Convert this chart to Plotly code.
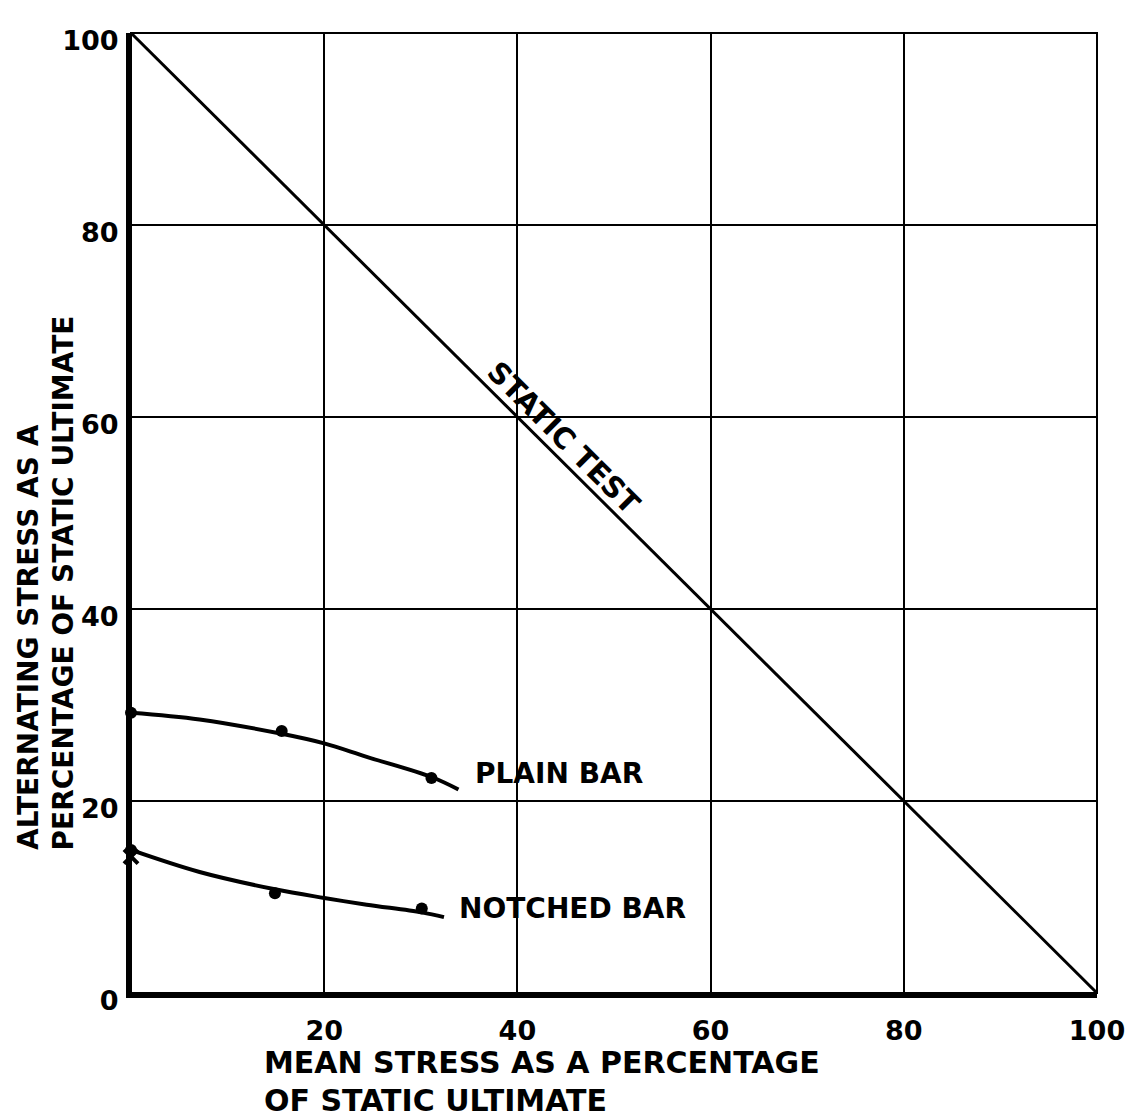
import plotly.graph_objects as go

# ---- data ----
static_x = [0, 100]
static_y = [100, 0]

plain_curve_x = [0, 7.1, 15.6, 20, 24.4, 31.1, 33.9]
plain_curve_y = [29.2, 28.5, 27.0, 26.0, 24.6, 22.5, 21.2]
plain_pts_x = [0, 15.6, 31.1]
plain_pts_y = [29.2, 27.3, 22.4]

notched_curve_x = [0, 7.1, 14.9, 20, 24.4, 30.1, 32.4]
notched_curve_y = [14.9, 12.6, 10.8, 9.9, 9.2, 8.4, 7.9]
notched_pts_x = [0, 14.9, 30.1]
notched_pts_y = [14.9, 10.4, 8.8]
cross_x = [0]
cross_y = [14.2]

x_ticks = [20, 40, 60, 80, 100]
x_tick_text = ["20", "40", "60", "80", "100"]
y_ticks = [0, 20, 40, 60, 80, 100]
y_tick_text = ["0", "20", "40", "60", "80", "100"]

FONT = "DejaVu Sans"
BLACK = "#000000"

fig = go.Figure()

fig.add_trace(go.Scatter(x=static_x, y=static_y, mode="lines",
                         line=dict(color=BLACK, width=3), showlegend=False))
fig.add_trace(go.Scatter(x=plain_curve_x, y=plain_curve_y, mode="lines",
                         line=dict(color=BLACK, width=4, shape="spline", smoothing=1),
                         showlegend=False))
fig.add_trace(go.Scatter(x=plain_pts_x, y=plain_pts_y, mode="markers",
                         marker=dict(color=BLACK, size=12), showlegend=False,
                         cliponaxis=False))
fig.add_trace(go.Scatter(x=notched_curve_x, y=notched_curve_y, mode="lines",
                         line=dict(color=BLACK, width=4, shape="spline", smoothing=1),
                         showlegend=False))
fig.add_trace(go.Scatter(x=notched_pts_x, y=notched_pts_y, mode="markers",
                         marker=dict(color=BLACK, size=12), showlegend=False,
                         cliponaxis=False))
fig.add_trace(go.Scatter(x=cross_x, y=cross_y, mode="markers",
                         marker=dict(symbol="x-thin-open", size=14, color=BLACK,
                                     line=dict(color=BLACK, width=4)),
                         showlegend=False, cliponaxis=False))

tickfont = dict(family=FONT, size=27, color=BLACK, weight="bold")

fig.update_xaxes(range=[0, 100], tickmode="array", tickvals=x_ticks, ticktext=x_tick_text,
                 showgrid=True, gridcolor=BLACK, gridwidth=2, zeroline=False,
                 showline=True, linecolor=BLACK, linewidth=5, ticks="",
                 ticklabelstandoff=10, tickfont=tickfont, automargin=False)
fig.update_yaxes(range=[0, 100], tickmode="array", tickvals=y_ticks, ticktext=y_tick_text,
                 showgrid=True, gridcolor=BLACK, gridwidth=2, zeroline=False,
                 showline=True, linecolor=BLACK, linewidth=5, ticks="",
                 ticklabelstandoff=2, ticklabelshift=8, tickfont=tickfont, automargin=False)

# top and right border
fig.add_shape(type="rect", xref="paper", yref="paper", x0=0, x1=1, y0=0, y1=1,
              line=dict(color=BLACK, width=2))

title_font = dict(family=FONT, size=30, color=BLACK, weight="bold")
ytitle_font = dict(family=FONT, size=28, color=BLACK, weight="bold")
label_font = dict(family=FONT, size=28, color=BLACK, weight="bold")

annotations = [
    dict(text="MEAN STRESS AS A PERCENTAGE", xref="paper", yref="paper",
         x=0.1356, y=-0.0729, xanchor="left", yanchor="middle", font=title_font,
         showarrow=False),
    dict(text="OF STATIC ULTIMATE", xref="paper", yref="paper",
         x=0.1356, y=-0.1115, xanchor="left", yanchor="middle", font=title_font,
         showarrow=False),
    dict(text="ALTERNATING STRESS AS A", xref="paper", yref="paper",
         x=-0.1056, y=0.1469, xanchor="center", yanchor="bottom", textangle=-90,
         font=ytitle_font, showarrow=False),
    dict(text="PERCENTAGE OF STATIC ULTIMATE", xref="paper", yref="paper",
         x=-0.0704, y=0.1469, xanchor="center", yanchor="bottom", textangle=-90,
         font=ytitle_font, showarrow=False),
    dict(text="PLAIN BAR", xref="x", yref="y", x=35.4, y=22.9,
         xanchor="left", yanchor="middle", font=label_font, showarrow=False),
    dict(text="NOTCHED BAR", xref="x", yref="y", x=33.7, y=8.85,
         xanchor="left", yanchor="middle", font=label_font, showarrow=False),
    dict(text="STATIC TEST", xref="x", yref="y", x=44.8, y=57.8,
         xanchor="center", yanchor="middle", textangle=45,
         font=dict(family=FONT, size=29, color=BLACK, weight="bold"), showarrow=False),
]

# the page body adds an 8px offset; size the figure so the plot area lands on the reference's
fig.update_layout(width=1125, height=1111,
                  margin=dict(l=123, r=36, t=25, b=126, autoexpand=False),
                  paper_bgcolor="white", plot_bgcolor="white",
                  annotations=annotations, showlegend=False)

fig.write_html("out.html")
